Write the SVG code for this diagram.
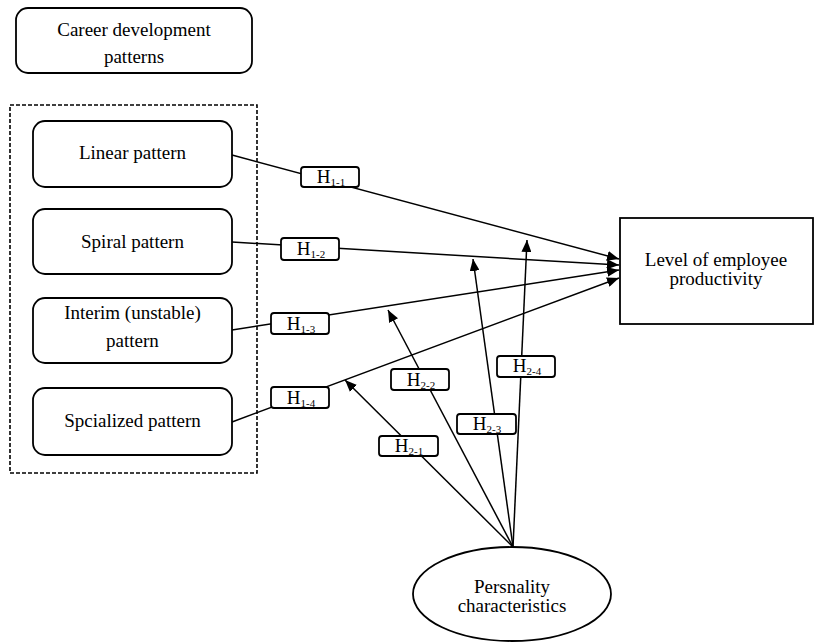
<svg xmlns="http://www.w3.org/2000/svg" width="814" height="642" viewBox="0 0 814 642" font-family="'Liberation Serif', 'Times New Roman', Times, 'DejaVu Serif', serif">
<style>
text{font-family:'Liberation Serif','Times New Roman',Times,'DejaVu Serif',serif;font-size:19px;fill:#000;text-anchor:middle}
.box{fill:#fff;stroke:#000;stroke-width:1.8}
.lbl{fill:#fff;stroke:#000;stroke-width:1.8}
.con{stroke:#000;stroke-width:1.5;fill:none}
.sub{font-size:11px}
</style>
<defs>
<marker id="ah" markerWidth="13" markerHeight="10" refX="12" refY="5" orient="auto" markerUnits="userSpaceOnUse">
<path d="M0,0 L12,5 L0,10 Z" fill="#000"/>
</marker>
</defs>
<rect x="10" y="105" width="247" height="368" fill="none" stroke="#000" stroke-width="1.6" stroke-dasharray="4,2"/>
<g id="connectors">
<line class="con" x1="232" y1="155" x2="619" y2="259" marker-end="url(#ah)"/>
<line class="con" x1="232" y1="242" x2="619" y2="265" marker-end="url(#ah)"/>
<line class="con" x1="232" y1="330" x2="619" y2="270" marker-end="url(#ah)"/>
<line class="con" x1="232" y1="422" x2="619" y2="278" marker-end="url(#ah)"/>
<line class="con" x1="513" y1="547" x2="345" y2="380" marker-end="url(#ah)"/>
<line class="con" x1="513" y1="547" x2="388" y2="310" marker-end="url(#ah)"/>
<line class="con" x1="513" y1="547" x2="473" y2="259" marker-end="url(#ah)"/>
<line class="con" x1="513" y1="547" x2="527" y2="240" marker-end="url(#ah)"/>
</g>
<g id="career">
<rect class="box" x="16" y="8" width="236" height="65" rx="12"/>
<text x="134" y="36">Career development</text>
<text x="134" y="63">patterns</text>
</g>
<g id="linear">
<rect class="box" x="33" y="121" width="199" height="66" rx="12"/>
<text x="132.5" y="159">Linear pattern</text>
</g>
<g id="spiral">
<rect class="box" x="33" y="209" width="199" height="65" rx="12"/>
<text x="132.5" y="248">Spiral pattern</text>
</g>
<g id="interim">
<rect class="box" x="33" y="298" width="199" height="65" rx="12"/>
<text x="132.5" y="319">Interim (unstable)</text>
<text x="132.5" y="347">pattern</text>
</g>
<g id="specialized">
<rect class="box" x="33" y="388" width="199" height="67" rx="12"/>
<text x="132.5" y="427">Spcialized pattern</text>
</g>
<g id="productivity">
<rect class="box" x="620" y="218" width="193" height="106"/>
<text x="716" y="266">Level of employee</text>
<text x="716" y="285">productivity</text>
</g>
<g id="personality">
<ellipse class="box" cx="512" cy="594" rx="99" ry="47"/>
<text x="512" y="593">Persnality</text>
<text x="512" y="612">characteristics</text>
</g>
<g id="h11"><rect class="lbl" x="301" y="167" width="58" height="20" rx="3"/><text x="331" y="183">H<tspan class="sub" dy="3">1-1</tspan></text></g>
<g id="h12"><rect class="lbl" x="281" y="238" width="58" height="22" rx="3"/><text x="311" y="255">H<tspan class="sub" dy="3">1-2</tspan></text></g>
<g id="h13"><rect class="lbl" x="271" y="313" width="58" height="21" rx="3"/><text x="301" y="330">H<tspan class="sub" dy="3">1-3</tspan></text></g>
<g id="h14"><rect class="lbl" x="271" y="387" width="58" height="21" rx="3"/><text x="301" y="404">H<tspan class="sub" dy="3">1-4</tspan></text></g>
<g id="h21"><rect class="lbl" x="379" y="436" width="59" height="20" rx="3"/><text x="409" y="452">H<tspan class="sub" dy="3">2-1</tspan></text></g>
<g id="h22"><rect class="lbl" x="391" y="369" width="58" height="21" rx="3"/><text x="421" y="386">H<tspan class="sub" dy="3">2-2</tspan></text></g>
<g id="h23"><rect class="lbl" x="457" y="414" width="59" height="20" rx="3"/><text x="487" y="430">H<tspan class="sub" dy="3">2-3</tspan></text></g>
<g id="h24"><rect class="lbl" x="497" y="356" width="58" height="21" rx="3"/><text x="527" y="372">H<tspan class="sub" dy="3">2-4</tspan></text></g>
</svg>
